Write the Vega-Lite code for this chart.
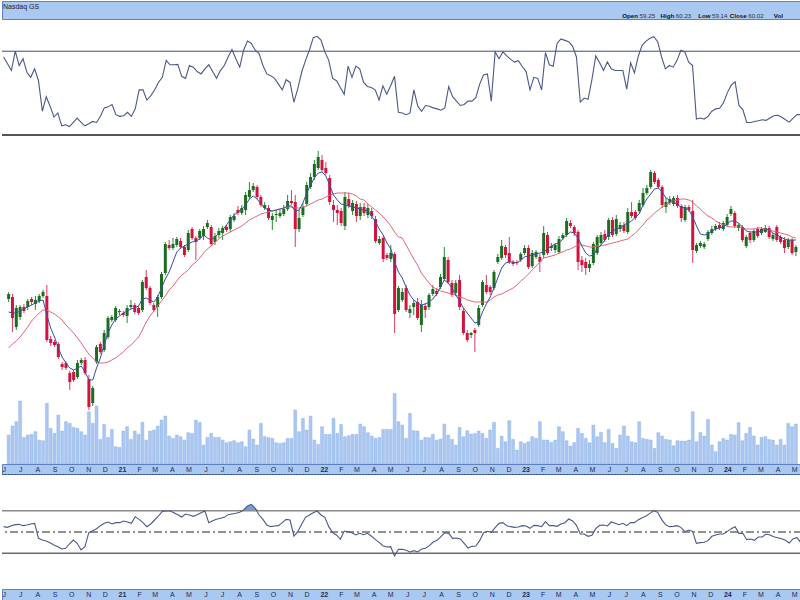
{
"$schema":"https://vega.github.io/schema/vega-lite/v6.json",
"padding":0,"spacing":0,"bounds":"flush","background":"white",
"config":{"view":{"stroke":null},"font":"Liberation Sans"},
"datasets":{
"one":[{}],
"hdr":[{"side":"L","k":"Nasdaq GS","v":""},{"side":"R","k":"Open","v":"59.25"},{"side":"R","k":"High","v":"60.23"},{"side":"R","k":"Low","v":"59.14"},{"side":"R","k":"Close","v":"60.02"},{"side":"R","k":"Vol","v":""}],
"w":[
{"d":"2020-06-01","o":201,"h":208,"l":198,"c":206,"v":87,"m1":188,"m2":152,"t":230,"b":187},
{"d":"2020-06-08","o":203,"h":206,"l":168,"c":182,"v":114,"m1":187,"m2":156,"t":210,"b":185},
{"d":"2020-06-15","o":173,"h":195,"l":170,"c":192,"v":127,"m1":187,"m2":159,"t":190,"b":190},
{"d":"2020-06-22","o":183,"h":195,"l":180,"c":193,"v":189,"m1":189,"m2":163,"t":247,"b":193},
{"d":"2020-06-29","o":193,"h":196,"l":187,"c":189,"v":80,"m1":191,"m2":168,"t":205,"b":194},
{"d":"2020-07-06","o":193,"h":201,"l":190,"c":199,"v":87,"m1":193,"m2":173,"t":225,"b":190},
{"d":"2020-07-13","o":201,"h":203,"l":195,"c":198,"v":89,"m1":195,"m2":179,"t":185,"b":192},
{"d":"2020-07-20","o":196,"h":204,"l":190,"c":200,"v":97,"m1":197,"m2":183,"t":170,"b":195},
{"d":"2020-07-27","o":199,"h":206,"l":197,"c":204,"v":72,"m1":199,"m2":187,"t":195,"b":197},
{"d":"2020-08-03","o":204,"h":210,"l":202,"c":208,"v":70,"m1":200,"m2":190,"t":160,"b":152},
{"d":"2020-08-10","o":204,"h":215,"l":158,"c":160,"v":182,"m1":185,"m2":190,"t":70,"b":147},
{"d":"2020-08-17","o":161,"h":164,"l":154,"c":157,"v":107,"m1":172,"m2":188,"t":113,"b":144},
{"d":"2020-08-24","o":158,"h":160,"l":153,"c":155,"v":92,"m1":163,"m2":186,"t":85,"b":139},
{"d":"2020-08-31","o":156,"h":158,"l":141,"c":143,"v":147,"m1":152,"m2":183,"t":53,"b":132},
{"d":"2020-09-07","o":136,"h":138,"l":130,"c":133,"v":99,"m1":143,"m2":180,"t":65,"b":127},
{"d":"2020-09-14","o":137,"h":139,"l":130,"c":132,"v":127,"m1":137,"m2":175,"t":27,"b":120},
{"d":"2020-09-21","o":127,"h":129,"l":110,"c":118,"v":122,"m1":132,"m2":171,"t":30,"b":122},
{"d":"2020-09-28","o":128,"h":130,"l":118,"c":120,"v":110,"m1":130,"m2":167,"t":25,"b":135},
{"d":"2020-10-05","o":123,"h":140,"l":121,"c":137,"v":107,"m1":132,"m2":162,"t":37,"b":147},
{"d":"2020-10-12","o":137,"h":142,"l":135,"c":140,"v":97,"m1":134,"m2":157,"t":50,"b":137},
{"d":"2020-10-19","o":140,"h":143,"l":125,"c":127,"v":87,"m1":128,"m2":151,"t":37,"b":117},
{"d":"2020-10-26","o":121,"h":125,"l":90,"c":93,"v":157,"m1":120,"m2":146,"t":27,"b":127},
{"d":"2020-11-02","o":97,"h":114,"l":94,"c":112,"v":122,"m1":120,"m2":142,"t":33,"b":169},
{"d":"2020-11-09","o":138,"h":155,"l":136,"c":153,"v":174,"m1":132,"m2":138,"t":40,"b":175},
{"d":"2020-11-16","o":156,"h":158,"l":146,"c":148,"v":74,"m1":142,"m2":137,"t":37,"b":181},
{"d":"2020-11-23","o":150,"h":170,"l":148,"c":167,"v":119,"m1":155,"m2":137,"t":55,"b":190},
{"d":"2020-11-30","o":163,"h":184,"l":161,"c":182,"v":80,"m1":167,"m2":138,"t":80,"b":197},
{"d":"2020-12-07","o":180,"h":185,"l":178,"c":183,"v":104,"m1":175,"m2":140,"t":83,"b":201},
{"d":"2020-12-14","o":180,"h":194,"l":178,"c":192,"v":52,"m1":181,"m2":142,"t":90,"b":195},
{"d":"2020-12-21","o":188,"h":191,"l":185,"c":189,"v":50,"m1":184,"m2":145,"t":60,"b":199},
{"d":"2020-12-28","o":187,"h":189,"l":183,"c":185,"v":99,"m1":187,"m2":148,"t":55,"b":199},
{"d":"2021-01-04","o":184,"h":195,"l":177,"c":192,"v":112,"m1":189,"m2":152,"t":57,"b":204},
{"d":"2021-01-11","o":193,"h":200,"l":191,"c":195,"v":74,"m1":191,"m2":155,"t":67,"b":201},
{"d":"2021-01-18","o":195,"h":197,"l":186,"c":188,"v":99,"m1":192,"m2":159,"t":55,"b":197},
{"d":"2021-01-25","o":192,"h":194,"l":185,"c":187,"v":89,"m1":194,"m2":163,"t":77,"b":217},
{"d":"2021-02-01","o":190,"h":220,"l":188,"c":218,"v":125,"m1":201,"m2":170,"t":133,"b":209},
{"d":"2021-02-08","o":223,"h":230,"l":210,"c":212,"v":72,"m1":202,"m2":178,"t":133,"b":199},
{"d":"2021-02-15","o":212,"h":214,"l":195,"c":197,"v":99,"m1":200,"m2":184,"t":103,"b":187},
{"d":"2021-02-22","o":195,"h":197,"l":188,"c":190,"v":102,"m1":198,"m2":189,"t":115,"b":195},
{"d":"2021-03-01","o":193,"h":205,"l":183,"c":203,"v":114,"m1":203,"m2":194,"t":133,"b":207},
{"d":"2021-03-08","o":203,"h":228,"l":201,"c":226,"v":132,"m1":212,"m2":199,"t":155,"b":219},
{"d":"2021-03-15","o":227,"h":258,"l":225,"c":256,"v":144,"m1":221,"m2":204,"t":170,"b":233},
{"d":"2021-03-22","o":255,"h":260,"l":250,"c":252,"v":84,"m1":228,"m2":210,"t":220,"b":234},
{"d":"2021-03-29","o":252,"h":262,"l":250,"c":256,"v":77,"m1":238,"m2":214,"t":207,"b":234},
{"d":"2021-04-05","o":255,"h":263,"l":253,"c":261,"v":87,"m1":248,"m2":219,"t":207,"b":229},
{"d":"2021-04-12","o":259,"h":262,"l":251,"c":253,"v":82,"m1":252,"m2":224,"t":208,"b":223},
{"d":"2021-04-19","o":253,"h":255,"l":243,"c":245,"v":72,"m1":254,"m2":227,"t":173,"b":216},
{"d":"2021-04-26","o":250,"h":270,"l":248,"c":267,"v":94,"m1":256,"m2":230,"t":167,"b":225},
{"d":"2021-05-03","o":271,"h":273,"l":260,"c":262,"v":92,"m1":258,"m2":235,"t":205,"b":222},
{"d":"2021-05-10","o":262,"h":264,"l":240,"c":258,"v":132,"m1":259,"m2":238,"t":200,"b":218},
{"d":"2021-05-17","o":262,"h":271,"l":260,"c":269,"v":125,"m1":261,"m2":242,"t":187,"b":223},
{"d":"2021-05-24","o":264,"h":274,"l":260,"c":271,"v":57,"m1":265,"m2":247,"t":180,"b":229},
{"d":"2021-05-31","o":273,"h":280,"l":271,"c":277,"v":80,"m1":262,"m2":251,"t":195,"b":234},
{"d":"2021-06-07","o":273,"h":275,"l":254,"c":256,"v":92,"m1":260,"m2":254,"t":207,"b":199},
{"d":"2021-06-14","o":258,"h":267,"l":255,"c":264,"v":80,"m1":263,"m2":258,"t":187,"b":205},
{"d":"2021-06-21","o":265,"h":272,"l":262,"c":269,"v":80,"m1":267,"m2":261,"t":167,"b":209},
{"d":"2021-06-28","o":267,"h":274,"l":260,"c":272,"v":72,"m1":270,"m2":264,"t":190,"b":212},
{"d":"2021-07-05","o":273,"h":275,"l":268,"c":270,"v":64,"m1":275,"m2":266,"t":205,"b":215},
{"d":"2021-07-12","o":271,"h":285,"l":268,"c":283,"v":67,"m1":280,"m2":268,"t":230,"b":223},
{"d":"2021-07-19","o":280,"h":287,"l":278,"c":284,"v":70,"m1":285,"m2":270,"t":252,"b":225},
{"d":"2021-07-26","o":290,"h":294,"l":285,"c":287,"v":64,"m1":288,"m2":272,"t":225,"b":227},
{"d":"2021-08-02","o":287,"h":295,"l":285,"c":292,"v":67,"m1":291,"m2":274,"t":200,"b":230},
{"d":"2021-08-09","o":290,"h":308,"l":285,"c":305,"v":52,"m1":295,"m2":277,"t":250,"b":237},
{"d":"2021-08-16","o":303,"h":318,"l":301,"c":310,"v":102,"m1":301,"m2":280,"t":277,"b":249},
{"d":"2021-08-23","o":310,"h":317,"l":308,"c":314,"v":75,"m1":304,"m2":282,"t":270,"b":254},
{"d":"2021-08-30","o":313,"h":315,"l":301,"c":303,"v":57,"m1":301,"m2":284,"t":250,"b":242},
{"d":"2021-09-06","o":303,"h":305,"l":293,"c":295,"v":122,"m1":296,"m2":286,"t":240,"b":222},
{"d":"2021-09-13","o":292,"h":298,"l":290,"c":295,"v":82,"m1":292,"m2":287,"t":205,"b":209},
{"d":"2021-09-20","o":292,"h":295,"l":280,"c":282,"v":79,"m1":290,"m2":288,"t":180,"b":192},
{"d":"2021-09-27","o":280,"h":287,"l":270,"c":284,"v":77,"m1":289,"m2":289,"t":175,"b":187},
{"d":"2021-10-04","o":285,"h":290,"l":278,"c":286,"v":64,"m1":290,"m2":290,"t":167,"b":189},
{"d":"2021-10-11","o":284,"h":290,"l":282,"c":287,"v":62,"m1":291,"m2":291,"t":150,"b":190},
{"d":"2021-10-18","o":286,"h":295,"l":284,"c":291,"v":64,"m1":292,"m2":292,"t":133,"b":199},
{"d":"2021-10-25","o":291,"h":305,"l":289,"c":299,"v":77,"m1":294,"m2":293,"t":163,"b":209},
{"d":"2021-11-01","o":299,"h":310,"l":295,"c":297,"v":77,"m1":294,"m2":293,"t":155,"b":207},
{"d":"2021-11-08","o":298,"h":305,"l":253,"c":271,"v":162,"m1":289,"m2":292,"t":97,"b":159},
{"d":"2021-11-15","o":271,"h":290,"l":268,"c":282,"v":97,"m1":290,"m2":292,"t":137,"b":172},
{"d":"2021-11-22","o":285,"h":297,"l":283,"c":293,"v":137,"m1":297,"m2":293,"t":185,"b":194},
{"d":"2021-11-29","o":296,"h":318,"l":294,"c":315,"v":102,"m1":307,"m2":294,"t":220,"b":215},
{"d":"2021-12-06","o":313,"h":327,"l":311,"c":323,"v":144,"m1":315,"m2":296,"t":250,"b":222},
{"d":"2021-12-13","o":323,"h":340,"l":320,"c":336,"v":72,"m1":322,"m2":298,"t":287,"b":229},
{"d":"2021-12-20","o":332,"h":349,"l":330,"c":343,"v":59,"m1":327,"m2":300,"t":291,"b":234},
{"d":"2021-12-27","o":340,"h":345,"l":328,"c":330,"v":112,"m1":328,"m2":301,"t":280,"b":222},
{"d":"2022-01-03","o":332,"h":338,"l":325,"c":327,"v":89,"m1":324,"m2":303,"t":245,"b":215},
{"d":"2022-01-10","o":322,"h":325,"l":295,"c":298,"v":89,"m1":315,"m2":305,"t":220,"b":187},
{"d":"2022-01-17","o":295,"h":300,"l":278,"c":290,"v":137,"m1":305,"m2":306,"t":167,"b":169},
{"d":"2022-01-24","o":290,"h":295,"l":275,"c":287,"v":92,"m1":300,"m2":307,"t":160,"b":162},
{"d":"2022-01-31","o":289,"h":292,"l":274,"c":277,"v":119,"m1":296,"m2":307,"t":140,"b":149},
{"d":"2022-02-07","o":274,"h":308,"l":270,"c":303,"v":82,"m1":295,"m2":307,"t":120,"b":174},
{"d":"2022-02-14","o":301,"h":307,"l":292,"c":294,"v":85,"m1":294,"m2":307,"t":203,"b":172},
{"d":"2022-02-21","o":289,"h":300,"l":285,"c":297,"v":89,"m1":293,"m2":306,"t":170,"b":169},
{"d":"2022-02-28","o":296,"h":299,"l":278,"c":284,"v":89,"m1":292,"m2":304,"t":203,"b":162},
{"d":"2022-03-07","o":284,"h":297,"l":280,"c":293,"v":120,"m1":291,"m2":301,"t":195,"b":167},
{"d":"2022-03-14","o":293,"h":297,"l":284,"c":287,"v":112,"m1":290,"m2":300,"t":155,"b":163},
{"d":"2022-03-21","o":285,"h":296,"l":282,"c":292,"v":94,"m1":289,"m2":296,"t":143,"b":167},
{"d":"2022-03-28","o":289,"h":292,"l":281,"c":284,"v":84,"m1":284,"m2":293,"t":140,"b":159},
{"d":"2022-04-04","o":281,"h":284,"l":257,"c":259,"v":77,"m1":278,"m2":290,"t":133,"b":149},
{"d":"2022-04-11","o":257,"h":264,"l":255,"c":261,"v":80,"m1":271,"m2":287,"t":103,"b":140},
{"d":"2022-04-18","o":262,"h":264,"l":238,"c":241,"v":104,"m1":265,"m2":283,"t":145,"b":130},
{"d":"2022-04-25","o":245,"h":247,"l":240,"c":242,"v":104,"m1":257,"m2":279,"t":120,"b":126},
{"d":"2022-05-02","o":241,"h":255,"l":238,"c":247,"v":104,"m1":251,"m2":274,"t":145,"b":127},
{"d":"2022-05-09","o":246,"h":248,"l":167,"c":186,"v":212,"m1":238,"m2":268,"t":173,"b":99},
{"d":"2022-05-16","o":190,"h":214,"l":188,"c":212,"v":127,"m1":228,"m2":263,"t":67,"b":119},
{"d":"2022-05-23","o":200,"h":212,"l":198,"c":208,"v":117,"m1":222,"m2":262,"t":65,"b":119},
{"d":"2022-05-30","o":212,"h":215,"l":188,"c":190,"v":77,"m1":213,"m2":255,"t":60,"b":116},
{"d":"2022-06-06","o":187,"h":195,"l":182,"c":191,"v":152,"m1":205,"m2":248,"t":65,"b":111},
{"d":"2022-06-13","o":193,"h":200,"l":185,"c":197,"v":100,"m1":200,"m2":241,"t":133,"b":115},
{"d":"2022-06-20","o":198,"h":202,"l":180,"c":182,"v":99,"m1":197,"m2":235,"t":85,"b":111},
{"d":"2022-06-27","o":175,"h":200,"l":168,"c":195,"v":72,"m1":195,"m2":227,"t":70,"b":120},
{"d":"2022-07-04","o":194,"h":197,"l":182,"c":190,"v":80,"m1":196,"m2":222,"t":87,"b":122},
{"d":"2022-07-11","o":193,"h":207,"l":190,"c":205,"v":79,"m1":198,"m2":217,"t":85,"b":130},
{"d":"2022-07-18","o":206,"h":215,"l":204,"c":211,"v":89,"m1":201,"m2":213,"t":80,"b":141},
{"d":"2022-07-25","o":209,"h":212,"l":204,"c":206,"v":72,"m1":206,"m2":211,"t":77,"b":146},
{"d":"2022-08-01","o":213,"h":226,"l":211,"c":223,"v":75,"m1":213,"m2":209,"t":73,"b":157},
{"d":"2022-08-08","o":221,"h":253,"l":219,"c":243,"v":120,"m1":220,"m2":208,"t":80,"b":169},
{"d":"2022-08-15","o":240,"h":243,"l":216,"c":218,"v":87,"m1":217,"m2":207,"t":143,"b":167},
{"d":"2022-08-22","o":217,"h":220,"l":203,"c":205,"v":74,"m1":212,"m2":206,"t":113,"b":152},
{"d":"2022-08-29","o":207,"h":220,"l":204,"c":217,"v":57,"m1":205,"m2":205,"t":100,"b":153},
{"d":"2022-09-05","o":220,"h":225,"l":190,"c":193,"v":110,"m1":199,"m2":203,"t":87,"b":150},
{"d":"2022-09-12","o":189,"h":192,"l":165,"c":167,"v":82,"m1":192,"m2":202,"t":90,"b":137},
{"d":"2022-09-19","o":167,"h":170,"l":158,"c":160,"v":100,"m1":187,"m2":200,"t":100,"b":123},
{"d":"2022-09-26","o":165,"h":168,"l":162,"c":167,"v":90,"m1":182,"m2":199,"t":100,"b":128},
{"d":"2022-10-03","o":170,"h":172,"l":148,"c":167,"v":92,"m1":177,"m2":198,"t":110,"b":129},
{"d":"2022-10-10","o":175,"h":195,"l":173,"c":192,"v":99,"m1":178,"m2":198,"t":150,"b":145},
{"d":"2022-10-17","o":195,"h":220,"l":193,"c":218,"v":92,"m1":188,"m2":198,"t":177,"b":169},
{"d":"2022-10-24","o":215,"h":225,"l":206,"c":208,"v":77,"m1":196,"m2":198,"t":180,"b":173},
{"d":"2022-10-31","o":213,"h":215,"l":205,"c":208,"v":102,"m1":203,"m2":200,"t":100,"b":170},
{"d":"2022-11-07","o":212,"h":230,"l":210,"c":228,"v":125,"m1":212,"m2":203,"t":245,"b":184},
{"d":"2022-11-14","o":238,"h":246,"l":236,"c":243,"v":47,"m1":222,"m2":205,"t":225,"b":197},
{"d":"2022-11-21","o":242,"h":260,"l":240,"c":254,"v":84,"m1":232,"m2":206,"t":245,"b":199},
{"d":"2022-11-28","o":253,"h":255,"l":242,"c":245,"v":67,"m1":237,"m2":208,"t":233,"b":190},
{"d":"2022-12-05","o":247,"h":263,"l":236,"c":238,"v":130,"m1":238,"m2":210,"t":223,"b":187},
{"d":"2022-12-12","o":238,"h":240,"l":234,"c":236,"v":74,"m1":238,"m2":212,"t":215,"b":185},
{"d":"2022-12-19","o":238,"h":240,"l":235,"c":237,"v":42,"m1":237,"m2":215,"t":219,"b":186},
{"d":"2022-12-26","o":240,"h":248,"l":238,"c":246,"v":67,"m1":240,"m2":219,"t":202,"b":190},
{"d":"2023-01-02","o":247,"h":255,"l":245,"c":252,"v":62,"m1":243,"m2":222,"t":187,"b":189},
{"d":"2023-01-09","o":252,"h":255,"l":231,"c":233,"v":67,"m1":244,"m2":226,"t":133,"b":182},
{"d":"2023-01-16","o":234,"h":250,"l":232,"c":247,"v":82,"m1":245,"m2":230,"t":170,"b":191},
{"d":"2023-01-23","o":243,"h":250,"l":241,"c":248,"v":77,"m1":246,"m2":234,"t":167,"b":190},
{"d":"2023-01-30","o":243,"h":246,"l":228,"c":238,"v":127,"m1":247,"m2":238,"t":133,"b":187},
{"d":"2023-02-06","o":245,"h":274,"l":242,"c":267,"v":72,"m1":248,"m2":242,"t":243,"b":202},
{"d":"2023-02-13","o":265,"h":268,"l":245,"c":247,"v":72,"m1":251,"m2":243,"t":207,"b":190},
{"d":"2023-02-20","o":252,"h":257,"l":249,"c":254,"v":65,"m1":254,"m2":244,"t":203,"b":190},
{"d":"2023-02-27","o":250,"h":257,"l":247,"c":255,"v":72,"m1":256,"m2":245,"t":270,"b":188},
{"d":"2023-03-06","o":248,"h":264,"l":246,"c":261,"v":112,"m1":257,"m2":247,"t":283,"b":195},
{"d":"2023-03-13","o":262,"h":267,"l":260,"c":265,"v":97,"m1":261,"m2":248,"t":279,"b":199},
{"d":"2023-03-20","o":265,"h":282,"l":263,"c":279,"v":70,"m1":265,"m2":250,"t":275,"b":210},
{"d":"2023-03-27","o":277,"h":280,"l":272,"c":274,"v":54,"m1":268,"m2":251,"t":262,"b":204},
{"d":"2023-04-03","o":273,"h":275,"l":264,"c":267,"v":64,"m1":267,"m2":253,"t":230,"b":191},
{"d":"2023-04-10","o":268,"h":270,"l":230,"c":238,"v":107,"m1":262,"m2":255,"t":97,"b":165},
{"d":"2023-04-17","o":240,"h":244,"l":228,"c":235,"v":92,"m1":254,"m2":255,"t":109,"b":165},
{"d":"2023-04-24","o":238,"h":242,"l":225,"c":232,"v":77,"m1":247,"m2":254,"t":105,"b":158},
{"d":"2023-05-01","o":232,"h":240,"l":228,"c":236,"v":64,"m1":244,"m2":253,"t":163,"b":161},
{"d":"2023-05-08","o":237,"h":258,"l":235,"c":256,"v":117,"m1":245,"m2":253,"t":233,"b":181},
{"d":"2023-05-15","o":247,"h":265,"l":245,"c":263,"v":82,"m1":251,"m2":254,"t":213,"b":191},
{"d":"2023-05-22","o":257,"h":268,"l":255,"c":265,"v":95,"m1":255,"m2":254,"t":190,"b":192},
{"d":"2023-05-29","o":266,"h":270,"l":258,"c":260,"v":64,"m1":260,"m2":255,"t":215,"b":189},
{"d":"2023-06-05","o":263,"h":282,"l":260,"c":280,"v":104,"m1":266,"m2":256,"t":195,"b":201},
{"d":"2023-06-12","o":280,"h":283,"l":263,"c":265,"v":62,"m1":269,"m2":257,"t":190,"b":197},
{"d":"2023-06-19","o":266,"h":285,"l":264,"c":281,"v":47,"m1":271,"m2":258,"t":190,"b":193},
{"d":"2023-06-26","o":271,"h":278,"l":268,"c":275,"v":87,"m1":272,"m2":259,"t":190,"b":197},
{"d":"2023-07-03","o":275,"h":278,"l":267,"c":269,"v":114,"m1":275,"m2":260,"t":135,"b":190},
{"d":"2023-07-10","o":268,"h":292,"l":266,"c":288,"v":84,"m1":277,"m2":261,"t":213,"b":199},
{"d":"2023-07-17","o":288,"h":298,"l":282,"c":284,"v":67,"m1":279,"m2":264,"t":183,"b":199},
{"d":"2023-07-24","o":288,"h":290,"l":280,"c":282,"v":64,"m1":283,"m2":267,"t":233,"b":208},
{"d":"2023-07-31","o":289,"h":300,"l":287,"c":297,"v":127,"m1":286,"m2":271,"t":265,"b":214},
{"d":"2023-08-07","o":295,"h":312,"l":293,"c":307,"v":77,"m1":295,"m2":275,"t":277,"b":219},
{"d":"2023-08-14","o":307,"h":315,"l":305,"c":312,"v":74,"m1":301,"m2":280,"t":285,"b":227},
{"d":"2023-08-21","o":313,"h":330,"l":311,"c":328,"v":72,"m1":306,"m2":283,"t":290,"b":235},
{"d":"2023-08-28","o":327,"h":329,"l":316,"c":318,"v":47,"m1":311,"m2":287,"t":275,"b":230},
{"d":"2023-09-04","o":320,"h":322,"l":311,"c":313,"v":94,"m1":312,"m2":290,"t":230,"b":209},
{"d":"2023-09-11","o":313,"h":315,"l":292,"c":295,"v":84,"m1":308,"m2":293,"t":195,"b":193},
{"d":"2023-09-18","o":293,"h":302,"l":287,"c":298,"v":74,"m1":302,"m2":295,"t":205,"b":187},
{"d":"2023-09-25","o":297,"h":304,"l":295,"c":301,"v":72,"m1":300,"m2":297,"t":200,"b":188},
{"d":"2023-10-02","o":296,"h":304,"l":294,"c":302,"v":55,"m1":298,"m2":299,"t":220,"b":190},
{"d":"2023-10-09","o":302,"h":305,"l":292,"c":294,"v":70,"m1":295,"m2":300,"t":250,"b":185},
{"d":"2023-10-16","o":294,"h":296,"l":278,"c":282,"v":69,"m1":293,"m2":301,"t":245,"b":172},
{"d":"2023-10-23","o":280,"h":295,"l":278,"c":293,"v":69,"m1":292,"m2":301,"t":215,"b":177},
{"d":"2023-10-30","o":293,"h":295,"l":288,"c":290,"v":72,"m1":290,"m2":300,"t":205,"b":173},
{"d":"2023-11-06","o":289,"h":300,"l":237,"c":250,"v":157,"m1":283,"m2":298,"t":47,"b":137},
{"d":"2023-11-13","o":249,"h":257,"l":247,"c":255,"v":67,"m1":274,"m2":294,"t":50,"b":139},
{"d":"2023-11-20","o":254,"h":259,"l":252,"c":257,"v":95,"m1":266,"m2":291,"t":47,"b":140},
{"d":"2023-11-27","o":253,"h":258,"l":251,"c":256,"v":84,"m1":265,"m2":287,"t":55,"b":145},
{"d":"2023-12-04","o":261,"h":270,"l":259,"c":268,"v":134,"m1":266,"m2":284,"t":70,"b":158},
{"d":"2023-12-11","o":267,"h":274,"l":265,"c":271,"v":57,"m1":269,"m2":282,"t":77,"b":162},
{"d":"2023-12-18","o":271,"h":276,"l":269,"c":274,"v":37,"m1":271,"m2":279,"t":79,"b":165},
{"d":"2023-12-25","o":275,"h":278,"l":270,"c":272,"v":67,"m1":272,"m2":277,"t":95,"b":165},
{"d":"2024-01-01","o":271,"h":279,"l":269,"c":277,"v":77,"m1":273,"m2":275,"t":125,"b":173},
{"d":"2024-01-08","o":275,"h":286,"l":273,"c":283,"v":72,"m1":276,"m2":274,"t":147,"b":181},
{"d":"2024-01-15","o":286,"h":294,"l":284,"c":291,"v":89,"m1":279,"m2":273,"t":157,"b":187},
{"d":"2024-01-22","o":287,"h":289,"l":272,"c":274,"v":87,"m1":279,"m2":273,"t":87,"b":167},
{"d":"2024-01-29","o":272,"h":277,"l":269,"c":275,"v":124,"m1":277,"m2":273,"t":75,"b":167},
{"d":"2024-02-05","o":273,"h":275,"l":258,"c":260,"v":70,"m1":273,"m2":272,"t":37,"b":148},
{"d":"2024-02-12","o":254,"h":265,"l":252,"c":263,"v":92,"m1":269,"m2":271,"t":37,"b":150},
{"d":"2024-02-19","o":267,"h":269,"l":257,"c":260,"v":110,"m1":268,"m2":271,"t":40,"b":146},
{"d":"2024-02-26","o":260,"h":271,"l":258,"c":269,"v":84,"m1":268,"m2":271,"t":42,"b":156},
{"d":"2024-03-04","o":271,"h":273,"l":262,"c":264,"v":57,"m1":268,"m2":272,"t":45,"b":156},
{"d":"2024-03-11","o":267,"h":273,"l":265,"c":271,"v":80,"m1":269,"m2":272,"t":43,"b":165},
{"d":"2024-03-18","o":268,"h":275,"l":267,"c":272,"v":82,"m1":271,"m2":271,"t":50,"b":162},
{"d":"2024-03-25","o":272,"h":274,"l":261,"c":263,"v":74,"m1":270,"m2":270,"t":57,"b":157},
{"d":"2024-04-01","o":261,"h":267,"l":259,"c":265,"v":72,"m1":267,"m2":269,"t":58,"b":154},
{"d":"2024-04-08","o":273,"h":275,"l":258,"c":260,"v":57,"m1":265,"m2":268,"t":53,"b":151},
{"d":"2024-04-15","o":263,"h":265,"l":256,"c":258,"v":74,"m1":263,"m2":267,"t":45,"b":146},
{"d":"2024-04-22","o":260,"h":263,"l":247,"c":252,"v":57,"m1":261,"m2":266,"t":38,"b":138},
{"d":"2024-04-29","o":253,"h":262,"l":251,"c":260,"v":122,"m1":260,"m2":265,"t":50,"b":151},
{"d":"2024-05-06","o":260,"h":262,"l":245,"c":247,"v":112,"m1":260,"m2":263,"t":60,"b":154},
{"d":"2024-05-13","o":248,"h":255,"l":244,"c":253,"v":120,"m1":260,"m2":262,"t":60,"b":139}
]},
"vconcat":[
{
"width":800,"height":18,
"view":{"fill":"#a9c8f2","stroke":"#5f80bc","strokeWidth":1},
"data":{"name":"hdr"},
"layer":[
{"transform":[{"filter":"datum.side == 'L'"}],
 "mark":{"type":"text","align":"left","baseline":"middle","fontSize":7,"color":"#1a1a1a","dy":-3},
 "encoding":{"x":{"field":"k","type":"nominal","scale":{"type":"point","range":[1,1]},"axis":null},"text":{"field":"k"}}},
{"transform":[{"filter":"datum.side == 'R'"}],
 "mark":{"type":"text","align":"right","baseline":"middle","fontSize":6.2,"fontWeight":"bold","color":"#111111","dy":6},
 "encoding":{"x":{"field":"k","type":"nominal","sort":null,"scale":{"type":"point","range":[618,799]},"axis":null},"text":{"field":"k"}}},
{"transform":[{"filter":"datum.side == 'R'"}],
 "mark":{"type":"text","align":"left","baseline":"middle","fontSize":6.2,"color":"#333333","dx":1.5,"dy":6},
 "encoding":{"x":{"field":"k","type":"nominal","sort":null,"scale":{"type":"point","range":[618,799]},"axis":null},"text":{"field":"v"}}}
],
"resolve":{"scale":{"x":"independent"}}
},
{
"width":800,"height":116,
"layer":[
{"data":{"name":"one"},"mark":{"type":"rule","color":"#3b4a8e","strokeWidth":1},
 "encoding":{"y":{"datum":247,"type":"quantitative","scale":{"domain":[0,342],"nice":false,"zero":false},"axis":null}}},
{"data":{"name":"w"},"mark":{"type":"line","color":"#4a5986","strokeWidth":1.1},
 "encoding":{"x":{"field":"d","type":"temporal","scale":{"type":"utc","domain":[{"year":2020,"month":5,"date":29,"utc":true},{"year":2024,"month":5,"date":15,"utc":true}]},"axis":null},
  "y":{"field":"t","type":"quantitative","axis":null}}},
{"data":{"name":"one"},"mark":{"type":"rule","color":"#555555","strokeWidth":2},
 "encoding":{"y":{"datum":0,"type":"quantitative","axis":null}}}
]
},
{
"width":800,"height":329,
"layer":[
{"data":{"name":"w"},"mark":{"type":"bar","size":3,"color":"#a9c7f0","stroke":"#8fb1e6","strokeWidth":0.4},
 "encoding":{"x":{"field":"d","type":"temporal","scale":{"type":"utc","domain":[{"year":2020,"month":5,"date":29,"utc":true},{"year":2024,"month":5,"date":15,"utc":true}]},"axis":null},
  "y":{"field":"v","type":"quantitative","scale":{"domain":[0,987],"nice":false},"axis":null}}},
{"data":{"name":"w"},
 "encoding":{"x":{"field":"d","type":"temporal","scale":{"type":"utc","domain":[{"year":2020,"month":5,"date":29,"utc":true},{"year":2024,"month":5,"date":15,"utc":true}]},"axis":null}},
 "layer":[
  {"mark":{"type":"rule","strokeWidth":1},
   "encoding":{"y":{"field":"l","type":"quantitative","scale":{"domain":[36,365],"nice":false,"zero":false},"axis":null},"y2":{"field":"h"},
    "color":{"condition":{"test":"datum.c > datum.o","value":"#2a8a30"},"value":"#de3a5e"}}},
  {"mark":{"type":"bar","size":3},
   "encoding":{"y":{"field":"o","type":"quantitative","axis":null},"y2":{"field":"c"},
    "color":{"condition":{"test":"datum.c > datum.o","value":"#1b6e1f"},"value":"#d3123e"}}},
  {"mark":{"type":"line","color":"#e06878","strokeWidth":1},"encoding":{"y":{"field":"m2","type":"quantitative","axis":null}}},
  {"mark":{"type":"line","color":"#3550a6","strokeWidth":1},"encoding":{"y":{"field":"m1","type":"quantitative","axis":null}}}
 ]}
],
"resolve":{"scale":{"y":"independent"}}
},
{
"width":800,"height":10,
"view":{"fill":"#a9c8f2","stroke":"#5f80bc","strokeWidth":1},
"data":{"name":"w"},
"mark":{"type":"point","opacity":0},
"encoding":{"x":{"field":"d","type":"temporal","scale":{"type":"utc","domain":[{"year":2020,"month":5,"date":29,"utc":true},{"year":2024,"month":5,"date":15,"utc":true}]},
 "axis":{"orient":"bottom","title":null,"domain":true,"domainColor":"#1b2b5a","domainDash":[1,2],"domainWidth":1,"ticks":false,"tickSize":0,"grid":false,"labelPadding":-5,"labelBaseline":"middle","labelAlign":"center","labelFontSize":7,"labelColor":"#1b2b5a","labelOverlap":false,"labelFlush":false,"labelBound":false,"tickCount":{"interval":"month","step":1},
  "labelExpr":"utcmonth(datum.value) == 0 ? utcFormat(datum.value, '%y') : substring(utcFormat(datum.value, '%b'), 0, 1)",
  "labelFontWeight":{"condition":{"test":"utcmonth(datum.value) == 0","value":"bold"},"value":"normal"}}}}
},
{
"width":800,"height":115,
"layer":[
{"data":{"name":"w"},"mark":{"type":"area","color":"#6f9fe2"},
 "encoding":{"x":{"field":"d","type":"temporal","scale":{"type":"utc","domain":[{"year":2020,"month":5,"date":29,"utc":true},{"year":2024,"month":5,"date":15,"utc":true}]},"axis":null},
  "y":{"field":"b","type":"quantitative","scale":{"domain":[235,345],"range":[36.67,0],"clamp":true,"nice":false,"zero":false},"axis":null},
  "y2":{"datum":235}}},
{"layer":[
 {"data":{"name":"one"},"mark":{"type":"rule","color":"#8a8a8a","strokeWidth":1.5},
  "encoding":{"y":{"datum":235,"type":"quantitative","scale":{"domain":[0,345],"nice":false,"zero":false},"axis":null}}},
 {"data":{"name":"one"},"mark":{"type":"rule","color":"#222222","strokeWidth":1,"strokeDash":[8,3,2,3]},
  "encoding":{"y":{"datum":171,"type":"quantitative","axis":null}}},
 {"data":{"name":"one"},"mark":{"type":"rule","color":"#6a6a6a","strokeWidth":1.5},
  "encoding":{"y":{"datum":107,"type":"quantitative","axis":null}}},
 {"data":{"name":"w"},"mark":{"type":"line","color":"#4a5986","strokeWidth":1.1},
  "encoding":{"x":{"field":"d","type":"temporal","scale":{"type":"utc","domain":[{"year":2020,"month":5,"date":29,"utc":true},{"year":2024,"month":5,"date":15,"utc":true}]},"axis":null},
   "y":{"field":"b","type":"quantitative","axis":null}}}
]}
],
"resolve":{"scale":{"y":"independent"}}
},
{
"width":800,"height":11,
"view":{"fill":"#a9c8f2","stroke":"#5f80bc","strokeWidth":1},
"data":{"name":"w"},
"mark":{"type":"point","opacity":0},
"encoding":{"x":{"field":"d","type":"temporal","scale":{"type":"utc","domain":[{"year":2020,"month":5,"date":29,"utc":true},{"year":2024,"month":5,"date":15,"utc":true}]},
 "axis":{"orient":"bottom","title":null,"domain":true,"domainColor":"#1b2b5a","domainDash":[1,2],"domainWidth":1,"ticks":false,"tickSize":0,"grid":false,"labelPadding":-5.5,"labelBaseline":"middle","labelAlign":"center","labelFontSize":7,"labelColor":"#1b2b5a","labelOverlap":false,"labelFlush":false,"labelBound":false,"tickCount":{"interval":"month","step":1},
  "labelExpr":"utcmonth(datum.value) == 0 ? utcFormat(datum.value, '%y') : substring(utcFormat(datum.value, '%b'), 0, 1)",
  "labelFontWeight":{"condition":{"test":"utcmonth(datum.value) == 0","value":"bold"},"value":"normal"}}}}
}
]
}
